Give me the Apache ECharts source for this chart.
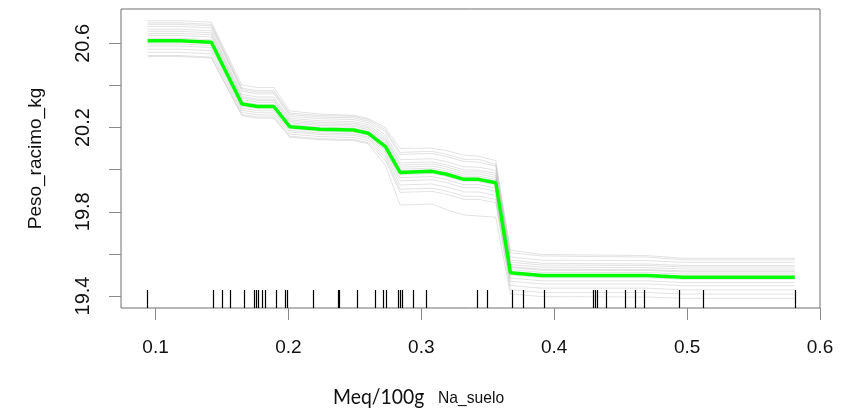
<!DOCTYPE html>
<html>
<head>
<meta charset="utf-8">
<script src="https://cdn.jsdelivr.net/npm/echarts@6/dist/echarts.min.js"></script>
<style>
html,body{margin:0;padding:0;background:#fff;}
#chart{width:841px;height:413px;}
</style>
</head>
<body>
<div id="chart"></div>
<script>
// Grid of Na_suelo values where the curves are evaluated
const gridX = [0.094, 0.118, 0.142, 0.165, 0.177, 0.189, 0.201, 0.224, 0.249, 0.260, 0.273, 0.284, 0.308, 0.319, 0.332, 0.343, 0.356, 0.367, 0.391, 0.470, 0.497, 0.581];
// Partial dependence (green)
const pdpY = [20.612, 20.612, 20.605, 20.312, 20.300, 20.300, 20.204, 20.192, 20.188, 20.173, 20.109, 19.987, 19.992, 19.978, 19.954, 19.954, 19.938, 19.510, 19.497, 19.497, 19.489, 19.489];
// Individual conditional expectation curves (grey)
const ice01 = [20.707,20.707,20.700,20.402,20.390,20.390,20.279,20.264,20.258,20.243,20.199,20.101,20.102,20.090,20.069,20.064,20.043,19.618,19.597,19.592,19.579,19.579];
const ice02 = [20.697,20.697,20.690,20.387,20.375,20.375,20.269,20.257,20.253,20.238,20.189,20.082,20.087,20.073,20.049,20.049,20.025,19.605,19.590,19.585,19.572,19.572];
const ice03 = [20.690,20.690,20.683,20.380,20.368,20.368,20.262,20.250,20.246,20.231,20.180,20.072,20.077,20.063,20.039,20.036,20.018,19.570,19.555,19.552,19.545,19.545];
const ice04 = [20.680,20.680,20.673,20.372,20.360,20.360,20.254,20.242,20.238,20.223,20.165,20.047,20.052,20.038,20.014,20.012,19.996,19.585,19.570,19.568,19.560,19.560];
const ice05 = [20.667,20.667,20.660,20.357,20.345,20.345,20.244,20.232,20.228,20.213,20.152,20.032,20.037,20.023,19.999,19.997,19.983,19.560,19.547,19.545,19.538,19.538];
const ice06 = [20.657,20.657,20.650,20.347,20.335,20.335,20.236,20.224,20.220,20.205,20.143,20.022,20.027,20.013,19.989,19.989,19.973,19.550,19.537,19.535,19.528,19.528];
const ice07 = [20.647,20.647,20.640,20.340,20.328,20.328,20.229,20.217,20.213,20.198,20.134,20.012,20.017,20.003,19.979,19.979,19.963,19.540,19.527,19.526,19.519,19.519];
const ice08 = [20.637,20.637,20.630,20.332,20.320,20.320,20.222,20.210,20.206,20.191,20.126,20.002,20.007,19.993,19.969,19.969,19.953,19.535,19.522,19.521,19.514,19.514];
const ice09 = [20.624,20.624,20.617,20.322,20.310,20.310,20.214,20.202,20.198,20.183,20.118,19.995,20.000,19.986,19.962,19.962,19.946,19.525,19.512,19.512,19.504,19.504];
const ice10 = [20.607,20.607,20.600,20.312,20.300,20.300,20.202,20.190,20.186,20.171,20.102,19.977,19.982,19.968,19.944,19.944,19.928,19.515,19.502,19.502,19.494,19.494];
const ice11 = [20.597,20.597,20.590,20.302,20.290,20.290,20.194,20.182,20.178,20.163,20.092,19.962,19.967,19.953,19.929,19.929,19.913,19.500,19.487,19.487,19.479,19.479];
const ice12 = [20.587,20.587,20.580,20.292,20.280,20.280,20.186,20.174,20.170,20.155,20.082,19.947,19.952,19.938,19.914,19.914,19.898,19.485,19.472,19.472,19.464,19.464];
const ice13 = [20.572,20.572,20.565,20.282,20.270,20.270,20.179,20.167,20.163,20.148,20.070,19.927,19.932,19.918,19.894,19.894,19.878,19.470,19.457,19.457,19.449,19.449];
const ice14 = [20.557,20.557,20.550,20.272,20.260,20.260,20.169,20.157,20.153,20.138,20.058,19.907,19.912,19.898,19.874,19.874,19.858,19.450,19.437,19.437,19.429,19.429];
const ice15 = [20.542,20.542,20.535,20.262,20.250,20.250,20.159,20.147,20.143,20.128,20.045,19.892,19.897,19.883,19.859,19.859,19.843,19.430,19.417,19.417,19.409,19.409];
const ice16 = [20.537,20.537,20.530,20.256,20.244,20.244,20.154,20.142,20.138,20.123,20.020,19.832,19.837,19.810,19.785,19.780,19.774,19.410,19.397,19.395,19.389,19.389];
// Rug: observed Na_suelo values
const rugX = [0.0938, 0.1435, 0.1500, 0.1560, 0.1668, 0.1741, 0.1756, 0.1771, 0.1804, 0.1824, 0.1907, 0.1977, 0.1987, 0.2183, 0.2371, 0.2383, 0.2518, 0.2652, 0.2709, 0.2732, 0.2827, 0.2842, 0.2851, 0.2940, 0.3033, 0.3421, 0.3497, 0.3685, 0.3763, 0.3923, 0.4294, 0.4310, 0.4324, 0.4390, 0.4535, 0.4610, 0.4678, 0.4941, 0.5121, 0.5813];
// Tick labels
const xTicks = [0.1, 0.2, 0.3, 0.4, 0.5, 0.6];
const yTicks = [19.4, 19.6, 19.8, 20.0, 20.2, 20.4, 20.6];
const yLabels = [19.4, 19.8, 20.2, 20.6];
const yTitle = 'Peso_racimo_kg';
const xUnit = 'Meq/100g';
const xVar = 'Na_suelo';

const X_MIN = 0.0740, X_MAX = 0.6, Y_MIN = 19.343, Y_MAX = 20.763;

const iceAll = [ice01, ice02, ice03, ice04, ice05, ice06, ice07, ice08, ice09, ice10, ice11, ice12, ice13, ice14, ice15, ice16];
const zip = arr => gridX.map((x, i) => [x, arr[i]]);

const series = iceAll.map(arr => ({
  type: 'line', data: zip(arr), showSymbol: false, silent: true, animation: false,
  lineStyle: {color: 'rgba(60,60,60,0.15)', width: 1}, z: 2
}));
series.push({
  type: 'custom', silent: true, animation: false, z: 3,
  data: rugX.map(x => [x]),
  renderItem: function (params, api) {
    const p = api.coord([api.value(0), Y_MIN]);
    const x = Math.round(p[0]) + 0.5;
    return {type: 'line', shape: {x1: x, y1: p[1], x2: x, y2: p[1] - 18}, style: {stroke: '#000', lineWidth: 1.2}};
  }
});
series.push({
  type: 'line', data: zip(pdpY), showSymbol: false, silent: true, animation: false,
  lineStyle: {color: '#00ff00', width: 3.5}, z: 5
});

const chart = echarts.init(document.getElementById('chart'), null, {renderer: 'canvas'});
chart.setOption({
  backgroundColor: '#fff',
  animation: false,
  grid: {left: 121, right: 21, top: 9, bottom: 105, show: true, borderColor: '#6e6e6e', borderWidth: 1, containLabel: false, outerBoundsMode: 'none'},
  xAxis: {
    type: 'value', min: X_MIN, max: X_MAX,
    axisLine: {show: false},
    splitLine: {show: false},
    axisTick: {show: true, length: 12, lineStyle: {color: '#8a8a8a', width: 1}, customValues: xTicks},
    axisLabel: {show: true, customValues: xTicks, margin: 30, fontSize: 19, color: '#111', fontFamily: 'Liberation Sans',
      formatter: v => v.toFixed(1), showMinLabel: true, showMaxLabel: true}
  },
  yAxis: {
    type: 'value', min: Y_MIN, max: Y_MAX,
    axisLine: {show: false},
    splitLine: {show: false},
    axisTick: {show: true, length: 12, lineStyle: {color: '#8a8a8a', width: 1}, customValues: yTicks},
    axisLabel: {show: true, customValues: yLabels, rotate: 90, margin: 28, fontSize: 20, color: '#111', fontFamily: 'Liberation Sans',
      formatter: v => v.toFixed(1)},
    name: yTitle, nameLocation: 'middle', nameRotate: 90, nameGap: 76,
    nameTextStyle: {fontSize: 19, color: '#111', fontFamily: 'Liberation Sans'}
  },
  graphic: [
    {type: 'text', x: 333, y: 386, scaleX: 0.88, style: {text: xUnit, fontSize: 22, fontFamily: 'Lato', fill: '#111', verticalAlign: 'top'}},
    {type: 'text', x: 438, y: 390, scaleX: 0.92, style: {text: xVar, fontSize: 17, fontFamily: 'Liberation Sans', fill: '#111', verticalAlign: 'top'}}
  ],
  series: series
});
</script>
</body>
</html>
